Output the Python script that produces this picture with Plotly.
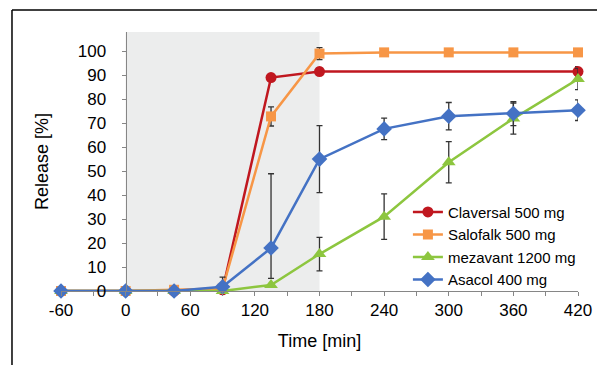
import plotly.graph_objects as go

time_min = [-60, 0, 45, 90, 135, 180, 240, 300, 360, 420]

claversal = [0, 0, 0, 0.5, 89, 91.5, None, None, None, 91.5]
claversal_err = [0, 0, 0, 0, 1, 1.5, 0, 0, 0, 2]

salofalk = [0, 0, 0.5, 1, 72.8, 99, 99.5, 99.5, 99.5, 99.5]
salofalk_err = [0, 0, 0, 0, 4, 2.5, 1.5, 1.5, 1.5, 1.5]

mezavant = [0, 0, 0, 0, 2.5, 15.4, 31, 53.7, 71.9, 88.4]
mezavant_err = [0, 0, 0, 0, 0, 7, 9.5, 8.6, 6.5, 4.4]

asacol = [0, 0, 0, 1.8, 17.9, 55, 67.6, 72.9, 74, 75.4]
asacol_err_plus = [0, 0, 0, 4, 31, 14, 4.5, 5.7, 5, 4.3]
asacol_err_minus = [0, 0, 0, 4, 12.6, 14, 4.5, 5.7, 5, 4.3]

x_ticks = [-60, 0, 60, 120, 180, 240, 300, 360, 420]
y_ticks = [0, 10, 20, 30, 40, 50, 60, 70, 80, 90, 100]

names = ["Claversal 500 mg", "Salofalk 500 mg", "mezavant 1200 mg", "Asacol 400 mg"]
colors = ["#C0171F", "#F79646", "#8DC63F", "#4472C4"]
symbols = ["circle", "square", "triangle-up", "diamond"]
sizes = [11, 10, 12, 12]

series = [
    (claversal, claversal_err, claversal_err),
    (salofalk, salofalk_err, salofalk_err),
    (mezavant, mezavant_err, mezavant_err),
    (asacol, asacol_err_plus, asacol_err_minus),
]

FONT = "Arial, Liberation Sans, sans-serif"

fig = go.Figure()
for (vals, ep, em), name, c, s, sz in zip(series, names, colors, symbols, sizes):
    fig.add_trace(go.Scatter(
        x=time_min, y=vals, name=name, mode="lines+markers",
        connectgaps=True, cliponaxis=False,
        line=dict(color=c, width=2.5),
        marker=dict(color=c, symbol=s, size=sz),
        error_y=dict(type="data", array=ep, arrayminus=em, symmetric=False,
                     color="#333333", thickness=1.3, width=3),
    ))

# shaded region 0..180 min
fig.add_shape(type="rect", xref="x", yref="y", x0=0, x1=180, y0=0, y1=108,
              fillcolor="#ECEDED", line=dict(width=0), layer="below")

# outer frame (left and top edges visible)
fig.add_shape(type="line", xref="paper", yref="paper", x0=-0.0948, x1=-0.0948,
              y0=1.085, y1=-0.4, line=dict(color="black", width=1.5))
fig.add_shape(type="line", xref="paper", yref="paper", x0=-0.0948, x1=1.2,
              y0=1.085, y1=1.085, line=dict(color="black", width=1.5))

fig.update_layout(
    width=605, height=365,
    margin=dict(l=53, r=35, t=24, b=82, autoexpand=False),
    paper_bgcolor="white", plot_bgcolor="white",
    font=dict(family=FONT, color="black", size=17),
    showlegend=True,
    legend=dict(x=0.671, y=0.368, xanchor="left", yanchor="top",
                bgcolor="rgba(0,0,0,0)", font=dict(size=15, family=FONT),
                tracegroupgap=0),
    xaxis=dict(range=[-60, 420], tickvals=x_ticks, ticktext=[str(v) for v in x_ticks],
               showgrid=False, zeroline=False, showline=True, linecolor="#868686",
               linewidth=1, ticks="outside", ticklen=4, tickcolor="#868686",
               minor=dict(dtick=30, tick0=0, ticks="outside", ticklen=4, tickcolor="#868686"),
               ticklabelstandoff=0, automargin=False,
               title=dict(text="Time [min]", font=dict(size=18), standoff=14)),
    yaxis=dict(range=[0, 108], tickvals=y_ticks, showgrid=False, zeroline=False,
               showline=True, linecolor="#868686", linewidth=1, ticks="outside",
               ticklen=4, tickcolor="#868686", anchor="free", position=0.125,
               ticklabelstandoff=12, automargin=False,
               title=dict(text="Release [%]", font=dict(size=18), standoff=23)),
)

fig.write_html("out.html")
